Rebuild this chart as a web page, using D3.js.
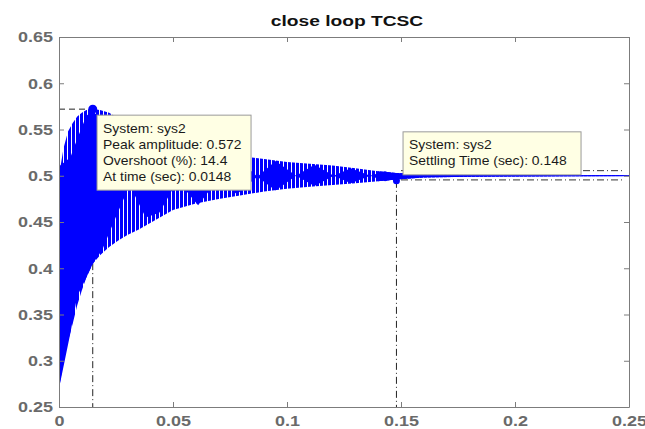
<!DOCTYPE html>
<html>
<head>
<meta charset="utf-8">
<script src="https://cdn.jsdelivr.net/npm/d3@7"></script>
<style>
  body { margin: 0; background: #fff; }
  svg { display: block; font-family: "Liberation Sans", Arial, sans-serif; }
</style>
</head>
<body>
<svg id="chart"></svg>
<script>
// envelope of the step response (stripe tips)
const timeS = [0, 0.002, 0.004, 0.006, 0.008, 0.010, 0.012, 0.0148, 0.018, 0.022, 0.026, 0.030, 0.035, 0.040,
  0.050, 0.060, 0.070, 0.080, 0.090, 0.100, 0.110, 0.120, 0.130, 0.140, 0.148, 0.160, 0.180, 0.200, 0.220, 0.250];
const upperEnv = [0.50, 0.530, 0.548, 0.557, 0.564, 0.568, 0.571, 0.572, 0.571, 0.568, 0.562, 0.556, 0.550, 0.544,
  0.535, 0.529, 0.524, 0.521, 0.518, 0.515, 0.513, 0.511, 0.508, 0.505, 0.503, 0.5015, 0.501, 0.5008, 0.5006, 0.5005];
const lowerEnv = [0.27, 0.300, 0.322, 0.340, 0.360, 0.376, 0.390, 0.405, 0.414, 0.423, 0.430, 0.436, 0.442, 0.449,
  0.463, 0.470, 0.475, 0.479, 0.483, 0.486, 0.488, 0.490, 0.492, 0.494, 0.496, 0.498, 0.499, 0.4993, 0.4995, 0.4996];

// solid (dense) parts of the beat pattern
const denseT = [0, 0.005, 0.008, 0.012, 0.0148, 0.019, 0.024, 0.031, 0.038, 0.044, 0.052, 0.061, 0.070, 0.078,
  0.087, 0.095, 0.104, 0.112, 0.1205, 0.128, 0.1365, 0.143, 0.1505];
const denseTop = [0.51, 0.52, 0.54, 0.565, 0.570, 0.560, 0.530, 0.490, 0.530, 0.525, 0.495, 0.525, 0.497, 0.520,
  0.499, 0.516, 0.500, 0.512, 0.500, 0.508, 0.500, 0.505, 0.499];
const denseBot = [0.27, 0.33, 0.37, 0.390, 0.405, 0.420, 0.450, 0.490, 0.455, 0.460, 0.495, 0.468, 0.497, 0.480,
  0.499, 0.484, 0.500, 0.489, 0.500, 0.492, 0.500, 0.494, 0.499];

const xTicks = [0, 0.05, 0.1, 0.15, 0.2, 0.25];
const yTicks = [0.25, 0.3, 0.35, 0.4, 0.45, 0.5, 0.55, 0.6, 0.65];

const steadyState = 0.5;
const settleBand = [0.4955, 0.5055];
const peak = { t: 0.0148, y: 0.572, overshoot: 14.4 };
const settle = { t: 0.148, y: 0.4945 };

const w = 645;
const h = 429;
const margin = { top: 37, right: 16, bottom: 22, left: 59 };
const blue = "#0000ff";
const axisColor = "#7c7c7c";

const svg = d3.select("#chart").attr("width", w).attr("height", h);

const xScale = d3.scaleLinear().domain([0, 0.25]).range([margin.left, w - margin.right]);
const yScale = d3.scaleLinear().domain([0.25, 0.65]).range([h - margin.bottom, margin.top]);

// stripe pattern for the sparse part of the oscillation
const defs = svg.append("defs");
const pat = defs.append("pattern").attr("id", "stripes").attr("patternUnits", "userSpaceOnUse")
  .attr("width", 4).attr("height", 10);
pat.append("rect").attr("width", 4).attr("height", 10).attr("fill", "#fff");
pat.append("rect").attr("width", 3).attr("height", 10).attr("fill", blue);
defs.append("clipPath").attr("id", "plotclip").append("rect")
  .attr("x", margin.left).attr("y", margin.top)
  .attr("width", w - margin.left - margin.right).attr("height", h - margin.top - margin.bottom);

// title
svg.append("text")
  .attr("transform", `translate(${(margin.left + w - margin.right) / 2 + 3},26) scale(1.28,1)`)
  .attr("text-anchor", "middle").attr("font-weight", "bold").attr("font-size", 15).attr("fill", "#111")
  .text("close loop TCSC");

// characteristic lines (behind the response)
const charLines = svg.append("g").attr("stroke", "#222").attr("stroke-width", 1).attr("fill", "none");
charLines.append("line")
  .attr("x1", xScale(0)).attr("x2", xScale(peak.t)).attr("y1", yScale(peak.y)).attr("y2", yScale(peak.y))
  .attr("stroke-dasharray", "6,4");
charLines.append("line")
  .attr("x1", xScale(peak.t)).attr("x2", xScale(peak.t)).attr("y1", yScale(peak.y)).attr("y2", yScale(0.25))
  .attr("stroke-dasharray", "7,3,1,3");
charLines.append("line")
  .attr("x1", xScale(settle.t)).attr("x2", xScale(settle.t)).attr("y1", yScale(settle.y)).attr("y2", yScale(0.25))
  .attr("stroke-dasharray", "7,3,1,3");

// response
const plot = svg.append("g").attr("clip-path", "url(#plotclip)");
const envData = timeS.map((t, i) => ({ t: t, hi: upperEnv[i], lo: lowerEnv[i] }));
const denseData = denseT.map((t, i) => ({ t: t, hi: denseTop[i], lo: denseBot[i] }));
const band = d3.area().x((d) => xScale(d.t)).y0((d) => yScale(d.lo)).y1((d) => yScale(d.hi));

plot.append("path").datum(envData).attr("d", band).attr("fill", "url(#stripes)");
plot.append("path").datum(envData.filter((d) => d.t >= 0.14)).attr("d", band).attr("fill", blue);
plot.append("path").datum(denseData).attr("d", band).attr("fill", blue);
plot.append("line")
  .attr("x1", xScale(0)).attr("x2", xScale(0)).attr("y1", yScale(lowerEnv[0])).attr("y2", yScale(upperEnv[0]))
  .attr("stroke", blue).attr("stroke-width", 2);
plot.append("line")
  .attr("x1", xScale(0.14)).attr("x2", xScale(0.25)).attr("y1", yScale(steadyState)).attr("y2", yScale(steadyState))
  .attr("stroke", blue).attr("stroke-width", 1.2);

// settling band lines
svg.append("g").selectAll("line").data(settleBand).enter().append("line")
  .attr("x1", xScale(0.15)).attr("x2", xScale(0.25) - 6)
  .attr("y1", (d) => yScale(d)).attr("y2", (d) => yScale(d))
  .attr("stroke", "#333").attr("stroke-dasharray", "7,3,1,3");

// markers
svg.append("circle").attr("cx", xScale(peak.t)).attr("cy", yScale(peak.y)).attr("r", 4.5).attr("fill", blue);
svg.append("circle").attr("cx", xScale(settle.t)).attr("cy", yScale(settle.y)).attr("r", 3.5).attr("fill", blue);

// axes
const xAxis = d3.axisBottom(xScale).tickValues(xTicks).tickSizeInner(-5).tickSizeOuter(0).tickPadding(8)
  .tickFormat((d) => d3.format("")(d));
const yAxis = d3.axisLeft(yScale).tickValues(yTicks).tickSizeInner(-5).tickSizeOuter(0).tickPadding(6)
  .tickFormat((d) => d3.format("")(d));

const gx = svg.append("g").attr("transform", `translate(0, ${h - margin.bottom})`).call(xAxis);
const gy = svg.append("g").attr("transform", `translate(${margin.left}, 0)`).call(yAxis);
svg.append("g").attr("transform", `translate(0, ${margin.top})`)
  .call(d3.axisTop(xScale).tickValues(xTicks).tickSizeInner(-5).tickSizeOuter(0).tickFormat(""));
svg.append("g").attr("transform", `translate(${w - margin.right}, 0)`)
  .call(d3.axisRight(yScale).tickValues(yTicks).tickSizeInner(-5).tickSizeOuter(0).tickFormat(""));

svg.selectAll(".domain, .tick line").attr("stroke", axisColor);
svg.selectAll(".tick text").attr("fill", "#6a6a6a").attr("font-weight", "bold").attr("font-size", 15)
  .attr("font-family", "'Liberation Sans', Arial, sans-serif");
gx.selectAll(".tick text").attr("transform", "scale(1.2,1)");
gy.selectAll(".tick text").attr("transform", "scale(1.2,1)").attr("x", -6 / 1.2);

// data tips
function dataTip(x, y, bw, bh, lines) {
  const g = svg.append("g").attr("transform", `translate(${x},${y})`);
  g.append("rect").attr("width", bw).attr("height", bh).attr("fill", "#ffffe4").attr("stroke", "#9a9a9a");
  lines.forEach((s, i) => {
    g.append("text").attr("transform", `translate(6,${17.5 + i * 16}) scale(1.07,1)`)
      .attr("font-size", 13).attr("fill", "#1a1a1a").text(s);
  });
}
dataTip(xScale(peak.t) + 4.3, yScale(peak.y) + 6, 154, 75, [
  "System: sys2",
  "Peak amplitude: " + peak.y,
  "Overshoot (%): " + peak.overshoot,
  "At time (sec): " + peak.t
]);
dataTip(xScale(settle.t) + 6.6, yScale(settle.y) - 49, 178, 43, [
  "System: sys2",
  "Settling Time (sec): " + settle.t
]);
</script>
</body>
</html>
